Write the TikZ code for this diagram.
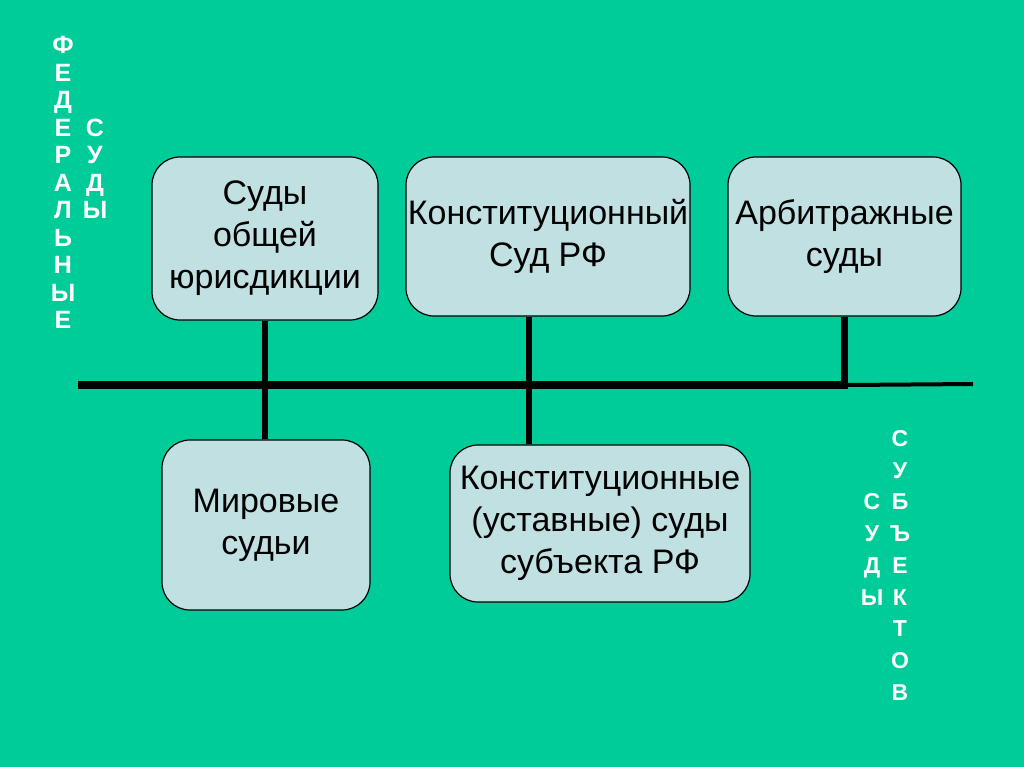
\documentclass[tikz,border=0pt]{standalone}
\usepackage{fontspec}
\setmainfont{Liberation Sans}
\usepackage{tikz}
\usetikzlibrary{positioning, calc}

\definecolor{slidegreen}{RGB}{0,204,153}
\definecolor{boxfill}{RGB}{192,224,226}

\begin{document}
\begin{tikzpicture}[x=1pt, y=-1pt]
\tikzstyle{court}=[draw=black, line width=1.2pt, fill=boxfill, rounded corners=28pt, align=center, inner sep=0pt, font=\fontsize{34}{42}\selectfont]
\tikzstyle{vert}=[anchor=north, align=center, inner sep=0pt, text=white, font=\bfseries]
\tikzstyle{bar}=[draw=black, line width=6.5pt]

\fill[slidegreen] (0,0) rectangle (1024,767);
\useasboundingbox (0,0) rectangle (1024,767);

\node[court, minimum width=226pt, minimum height=163pt] at (265,238.5) (gen) {Суды\\общей\\юрисдикции};
\node[court, minimum width=284pt, minimum height=159pt] at (548,236.5) (ks) {Конституционный\\Суд РФ};
\node[court, minimum width=233pt, minimum height=159pt] at (844.5,236.5) (arb) {Арбитражные\\суды};
\node[court, minimum width=208pt, minimum height=170pt] at (266,525) (mir) {Мировые\\судьи};
\node[court, minimum width=300pt, minimum height=157pt] at (600,523.5) (ust) {Конституционные\\(уставные) суды\\субъекта РФ};

\coordinate (busL) at (78,385);
\coordinate (busR) at (848,385);
\coordinate (busE) at (973,384);

\path [bar, line width=8pt] (busL) edge (busR);
\path [bar, line width=4pt] (busR) edge (busE);
\path [bar] (gen.south) edge (gen.south |- mir.north);
\path [bar] (ks.south -| 529,0) edge (ust.north -| 529,0);
\path [bar] (arb.south) edge ($(arb.south |- busR)+(0,4)$);

%vertical captions
\node[vert, font=\bfseries\fontsize{25}{27.5}\selectfont] at (63,36) (fed) {Ф\\Е\\Д\\Е\\Р\\А\\Л\\Ь\\Н\\Ы\\Е};
\node[vert, font=\bfseries\fontsize{25}{27.5}\selectfont] at (95,118.5) (fedsud) {С\\У\\Д\\Ы};
\node[vert, font=\bfseries\fontsize{23}{31.75}\selectfont] at (900,430) (subj) {С\\У\\Б\\Ъ\\Е\\К\\Т\\О\\В};
\node[vert, font=\bfseries\fontsize{23}{31.75}\selectfont] at (872,493.5) (subjsud) {С\\У\\Д\\Ы};

\end{tikzpicture}
\end{document}
